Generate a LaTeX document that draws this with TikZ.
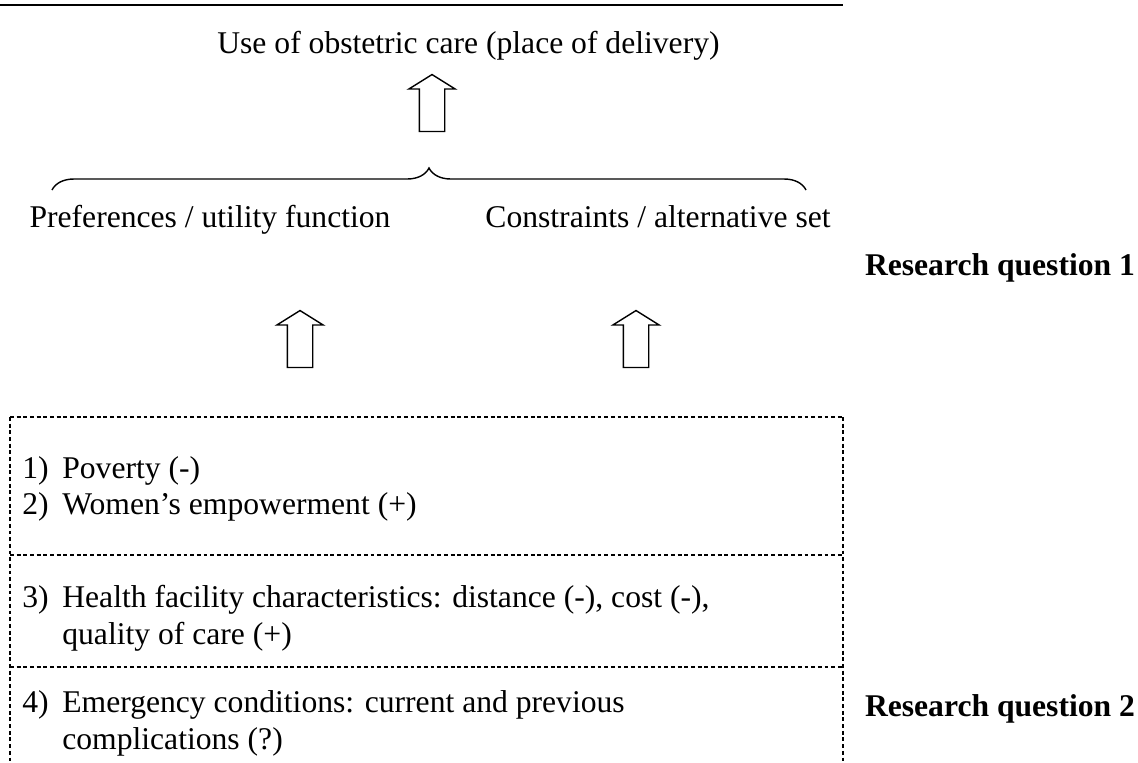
\documentclass[tikz,border=0pt]{standalone}
\usepackage{fontspec}
\setmainfont{Liberation Serif}
\usetikzlibrary{shapes.arrows,decorations.pathreplacing,positioning}

\begin{document}
\begin{tikzpicture}[
    x=0.02cm, y=-0.02cm,
    txt/.style={inner sep=0pt, anchor=base, font=\fontsize{18}{22}\selectfont},
    rq/.style={txt, font=\fontsize{18}{22}\selectfont\bfseries},
    item/.style={txt, anchor=base west},
    hollow/.style={draw, line width=0.8pt, single arrow, shape border rotate=90,
        minimum height=1.14cm, inner sep=0.24cm,
        single arrow head extend=0.21cm, single arrow tip angle=116},
    dashbox/.style={line width=0.9pt, dash pattern=on 2.2pt off 1.6pt},
]
    \useasboundingbox (0,0) rectangle (1138,762);
    \clip (0,0) rectangle (1138,762);

    % top rule and outcome
    \draw[line width=1.2pt] (0,5) -- (843,5);
    \node[txt, anchor=base west] (use) at (217,53) {Use of obstetric care (place of delivery)};
    \node[hollow] (up1) at (432,107) {};

    % brace over the two sides of the choice
    \coordinate (bl) at (52,190);
    \coordinate (br) at (806,190);
    \draw[line width=0.8pt, decorate, decoration={brace, amplitude=0.44cm}] (bl) -- (br);
    \node[txt] (pref) at (210,227) {Preferences / utility function};
    \node[txt] (cons) at (658,227) {Constraints / alternative set};
    \node[rq] (rq1) at (1000,275) {Research question 1};

    \node[hollow] (up2) at (300,343) {};
    \node[hollow] (up3) at (636,343) {};

    % determinants box
    \draw[dashbox] (10,417) -- (843,417);
    \draw[dashbox] (10,555) -- (843,555);
    \draw[dashbox] (10,667) -- (843,667);
    \draw[dashbox] (10,417) -- (10,780);
    \draw[dashbox] (843,417) -- (843,780);

    \node[item] (n1) at (22,478) {1)};
    \node[item] (t1) at (62,478) {Poverty (-)};
    \node[item] (n2) at (22,514) {2)};
    \node[item] (t2) at (62,514) {Women’s empowerment (+)};
    \node[item] (n3) at (22,607) {3)};
    \node[item] (t3) at (62,607) {Health facility characteristics: distance (-), cost (-),};
    \node[item] (t3b) at (62,644) {quality of care (+)};
    \node[item] (n4) at (22,712) {4)};
    \node[item] (t4) at (62,712) {Emergency conditions: current and previous};
    \node[item] (t4b) at (62,749) {complications (?)};
    \node[rq] (rq2) at (1000,716) {Research question 2};
\end{tikzpicture}
\end{document}
